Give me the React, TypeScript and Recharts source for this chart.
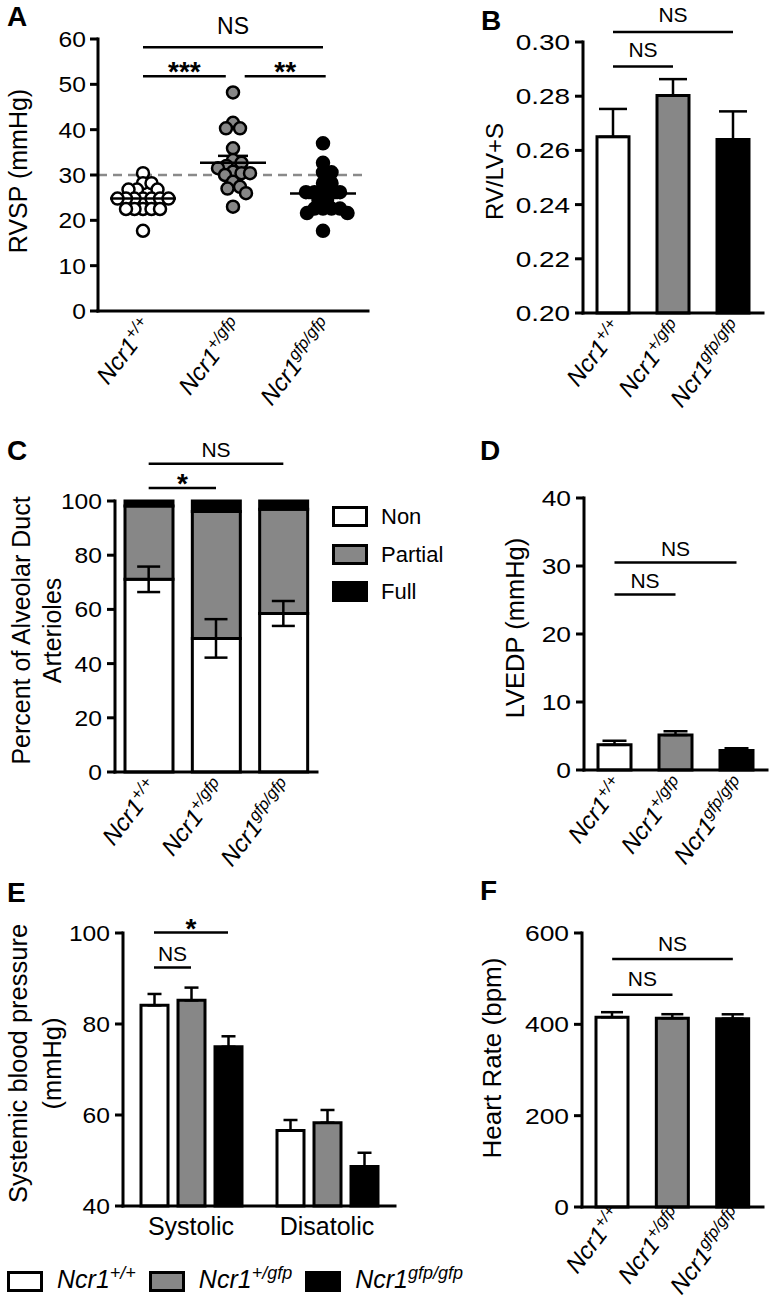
import React from "react";
import {
  ScatterChart,
  Scatter,
  BarChart,
  Bar,
  ComposedChart,
  XAxis,
  YAxis,
  ReferenceLine,
  ErrorBar,
  Cell,
} from "recharts";

const FONT = '"Liberation Sans", Arial, Helvetica, sans-serif';
const GRAY = "#878787";

// ─── Data ─────────────────────────────────────────────────────────────────────

const GENE = "Ncr1";
const GENOTYPES = ["+/+", "+/gfp", "gfp/gfp"];
const GENO_FILLS = ["#ffffff", GRAY, "#000000"];

// A: RVSP per animal (mmHg)
const RVSP_WT = [30.4, 28.2, 28.2, 26.8, 26.8, 26.8, 24.8, 24.8, 24.8, 24.8, 24.8, 24.8, 24.8, 22.5, 22.5, 22.5, 22.5, 22.5, 17.7];
const RVSP_HET = [48.2, 41.5, 40.3, 40.3, 35.9, 33.3, 32.7, 32.0, 31.5, 30.7, 30.4, 30.4, 30.0, 28.5, 27.4, 27.0, 26.0, 23.0];
const RVSP_KO = [37.0, 32.7, 30.6, 30.6, 28.2, 28.2, 26.2, 26.2, 26.2, 26.2, 26.2, 24.5, 24.5, 22.6, 22.6, 22.6, 22.6, 21.6, 21.6, 17.7];
const RVSP_THRESHOLD = 30;
const A_TICKS = [0, 10, 20, 30, 40, 50, 60];

// B: RV/LV+S
const RVLV_MEAN = [0.265, 0.2803, 0.264];
const RVLV_SEM = [0.0103, 0.006, 0.0104];
const B_TICKS = [0.2, 0.22, 0.24, 0.26, 0.28, 0.3];

// C: muscularisation of alveolar duct arterioles (%)
const MUSC_CLASSES = ["Non", "Partial", "Full"];
const MUSC_FILLS = ["#ffffff", GRAY, "#000000"];
const MUSC_NON = [71.1, 49.3, 58.5];
const MUSC_NON_SEM = [4.7, 7.1, 4.6];
const MUSC_PARTIAL = [27.1, 46.8, 38.5];
const MUSC_FULL = [1.8, 3.9, 3.0];
const C_TICKS = [0, 20, 40, 60, 80, 100];

// D: LVEDP (mmHg)
const LVEDP_MEAN = [3.7, 5.15, 2.85];
const LVEDP_SEM = [0.6, 0.55, 0.35];
const D_TICKS = [0, 10, 20, 30, 40];

// E: systemic blood pressure (mmHg)
const BP_PHASES = ["Systolic", "Disatolic"];
const BP_WT = [84.1, 56.6];
const BP_WT_SEM = [2.5, 2.3];
const BP_HET = [85.2, 58.3];
const BP_HET_SEM = [2.8, 2.8];
const BP_KO = [75.0, 48.7];
const BP_KO_SEM = [2.3, 3.0];
const E_TICKS = [40, 60, 80, 100];

// F: heart rate (bpm)
const HR_MEAN = [415.6, 413.4, 412.5];
const HR_SEM = [11, 8.8, 9.5];
const F_TICKS = [0, 200, 400, 600];

// significance brackets
const A_SIG = [
  { x1: 1, x2: 3, y: 58.2, text: "NS" },
  { x1: 1, x2: 1.92, y: 51.8, text: "***" },
  { x1: 2.13, x2: 3.03, y: 51.8, text: "**" },
];
const B_SIG = [
  { x1: GENOTYPES[0], x2: GENOTYPES[2], y: 0.3037, text: "NS" },
  { x1: GENOTYPES[0], x2: GENOTYPES[1], y: 0.291, text: "NS" },
];
const C_SIG = [
  { x1: GENOTYPES[0], x2: GENOTYPES[2], y: 113.7, text: "NS" },
  { x1: GENOTYPES[0], x2: GENOTYPES[1], y: 104.8, text: "*" },
];
const D_SIG = [
  { x1: GENOTYPES[0], x2: GENOTYPES[2], y: 30.5, text: "NS" },
  { x1: GENOTYPES[0], x2: GENOTYPES[1], y: 25.8, text: "NS" },
];
const F_SIG = [
  { x1: GENOTYPES[0], x2: GENOTYPES[2], y: 543, text: "NS" },
  { x1: GENOTYPES[0], x2: GENOTYPES[1], y: 464.6, text: "NS" },
];
// within-group comparisons in E (bar index in the Systolic group)
const E_SIG = [
  { phase: BP_PHASES[0], from: 0, to: 2, y: 100.1, text: "*" },
  { phase: BP_PHASES[0], from: 0, to: 1, y: 92.4, text: "NS" },
];

// ─── Shared bits ──────────────────────────────────────────────────────────────

const axisLine = { stroke: "#000", strokeWidth: 3, strokeLinecap: "square" as const };
const tickLine = { stroke: "#000", strokeWidth: 3 };

const makeYTick = (fmt?: (v: number) => string, sx = 1.12) => (props: any) => (
  <g transform={`translate(${props.x},${props.y}) scale(${sx},1)`}>
    <text x={0} y={0} dy="0.36em" textAnchor="end" fontFamily={FONT} fontSize={22} fill="#000">
      {fmt ? fmt(props.payload.value) : props.payload.value}
    </text>
  </g>
);

const makeGenoTick = (drop = 16) => (props: any) => {
  const { x, y, payload } = props;
  const v = payload.value;
  const sup = typeof v === "number" ? GENOTYPES[v - 1] : v;
  return (
    <g transform={`translate(${x + 11},${y + drop}) rotate(-52)`}>
      <text x={0} y={0} textAnchor="end" fontFamily={FONT} fontStyle="italic" fontSize={24} fill="#000">
        {GENE}
        <tspan fontSize={16.5} dy={-9}>
          {sup}
        </tspan>
      </text>
    </g>
  );
};
const GenoTick = makeGenoTick();

const yTitle = (lines: string[], cx: number, size: number, shift: number, lh = 32) => (props: any) => {
  const vb = props.viewBox;
  const cy = vb.y + vb.height / 2 + shift;
  return (
    <g>
      {lines.map((t, i) => {
        const x = vb.x + cx + i * lh;
        return (
          <text
            key={i}
            x={x}
            y={cy}
            dy="0.36em"
            textAnchor="middle"
            transform={`rotate(-90 ${x} ${cy})`}
            fontFamily={FONT}
            fontSize={size}
            fill="#000"
          >
            {t}
          </text>
        );
      })}
    </g>
  );
};

const sigText = (text: string, x: number, lineY: number, nsSize: number, nsGap: number, starGap: number) => {
  const star = /^\*+$/.test(text);
  return (
    <text
      x={x}
      y={lineY - (star ? starGap : nsGap)}
      textAnchor="middle"
      fontFamily={FONT}
      fontSize={star ? 28 : nsSize}
      fontWeight={star ? 700 : 400}
      fill="#000"
    >
      {text}
    </text>
  );
};

type Sig = { x1: any; x2: any; y: number; text: string };

const brackets = (list: Sig[], nsSize: number, nsGap: number, starGap: number) =>
  list.map((b, i) => (
    <ReferenceLine
      key={`sig-${i}`}
      segment={[
        { x: b.x1, y: b.y },
        { x: b.x2, y: b.y },
      ]}
      stroke="#000"
      strokeWidth={2.5}
      ifOverflow="visible"
      label={(p: any) => sigText(b.text, p.viewBox.x + p.viewBox.width / 2, p.viewBox.y, nsSize, nsGap, starGap)}
    />
  ));

// simple beeswarm: nearest free horizontal slot (in px) for each point
function swarm(values: number[], pxX: number, pxY: number, minDist: number) {
  const placed: [number, number][] = [];
  return values.map((v) => {
    const py = v * pxY;
    let off = 0;
    for (let k = 0; k < 2000; k++) {
      const c = (k % 2 === 1 ? 1 : -1) * Math.ceil(k / 2) * 0.5;
      if (placed.every(([qx, qy]) => Math.hypot(qx - c, qy - py) >= minDist)) {
        off = c;
        break;
      }
    }
    placed.push([off, py]);
    return off / pxX;
  });
}

const mean = (a: number[]) => a.reduce((s, v) => s + v, 0) / a.length;
const sem = (a: number[]) => {
  const m = mean(a);
  const sd = Math.sqrt(a.reduce((s, v) => s + (v - m) ** 2, 0) / (a.length - 1));
  return sd / Math.sqrt(a.length);
};

// ─── Panel A ─────────────────────────────────────────────────────────────────

const A_W = 390;
const A_H = 420;
const A_M = { top: 39, right: 22, bottom: 9, left: 0 };
const A_YW = 98;
const A_XH = 100;
const A_PX_X = (A_W - A_M.left - A_M.right - A_YW) / 3;
const A_PX_Y = (A_H - A_M.top - A_M.bottom - A_XH) / 60;

const RVSP_GROUPS = [RVSP_WT, RVSP_HET, RVSP_KO];
const A_POINTS = RVSP_GROUPS.map((vals, gi) => {
  const offs = swarm(vals, A_PX_X, A_PX_Y, 8.5);
  return vals.map((v, i) => ({ x: gi + 1 + offs[i], y: v }));
});
const A_MEANS = RVSP_GROUPS.map((vals, gi) => ({ x: gi + 1, y: mean(vals), sem: sem(vals) }));

const dot = (fill: string) => (p: any) => (
  <circle cx={p.cx} cy={p.cy} r={6} fill={fill} stroke="#000" strokeWidth={2.5} />
);
const meanShape = (p: any) => (
  <line x1={p.cx - 33} x2={p.cx + 33} y1={p.cy} y2={p.cy} stroke="#000" strokeWidth={2.5} />
);

const PanelA = () => (
  <div style={{ position: "absolute", left: 0, top: 0 }}>
    <ScatterChart width={A_W} height={A_H} margin={A_M}>
      <XAxis
        type="number"
        dataKey="x"
        domain={[0.5, 3.5]}
        ticks={[1, 2, 3]}
        interval={0}
        allowDataOverflow
        axisLine={axisLine}
        tickLine={false}
        tickSize={0}
        tickMargin={0}
        height={A_XH}
        tick={GenoTick}
      />
      <YAxis
        type="number"
        dataKey="y"
        domain={[0, 60]}
        ticks={A_TICKS}
        interval={0}
        width={A_YW}
        axisLine={axisLine}
        tickLine={tickLine}
        tickSize={8}
        tickMargin={4}
        tick={makeYTick()}
        label={yTitle(["RVSP (mmHg)"], 18, 25, -4)}
      />
      <ReferenceLine y={RVSP_THRESHOLD} stroke="#8a8a8a" strokeWidth={2.5} strokeDasharray="9 6" />
      {A_POINTS.map((pts, gi) => (
        <Scatter key={gi} data={pts} fill={GENO_FILLS[gi]} shape={dot(GENO_FILLS[gi])} isAnimationActive={false} />
      ))}
      <Scatter data={A_MEANS} shape={meanShape} isAnimationActive={false}>
        <ErrorBar dataKey="sem" direction="y" width={15} stroke="#000" strokeWidth={2.5} />
      </Scatter>
      {brackets(A_SIG, 23, 13, -5)}
    </ScatterChart>
  </div>
);

// ─── Simple genotype bar panels (B, D, F) ───────────────────────────────────

type SimpleProps = {
  left: number;
  top: number;
  width: number;
  height: number;
  margin: { top: number; right: number; bottom: number; left: number };
  yWidth: number;
  xHeight: number;
  means: number[];
  sems: number[];
  domain: [number, number];
  ticks: number[];
  fmt?: (v: number) => string;
  tickScale: number;
  labelDrop?: number;
  title: (props: any) => React.ReactNode;
  barSize: number;
  capHalf: number;
  sig: Sig[];
  nsGap: number;
};

const SimpleBars = (p: SimpleProps) => {
  const data = GENOTYPES.map((g, i) => ({ g, v: p.means[i], err: [0, p.sems[i]] }));
  return (
    <div style={{ position: "absolute", left: p.left, top: p.top }}>
      <BarChart width={p.width} height={p.height} margin={p.margin} data={data}>
        <XAxis
          dataKey="g"
          interval={0}
          axisLine={axisLine}
          tickLine={false}
          tickSize={0}
          tickMargin={0}
          height={p.xHeight}
          tick={makeGenoTick(p.labelDrop)}
        />
        <YAxis
          type="number"
          domain={p.domain}
          ticks={p.ticks}
          interval={0}
          width={p.yWidth}
          axisLine={axisLine}
          tickLine={tickLine}
          tickSize={8}
          tickMargin={5}
          tick={makeYTick(p.fmt, p.tickScale)}
          label={p.title}
        />
        <Bar dataKey="v" barSize={p.barSize} stroke="#000" strokeWidth={3} isAnimationActive={false}>
          {data.map((d, i) => (
            <Cell key={d.g} fill={GENO_FILLS[i]} />
          ))}
          <ErrorBar dataKey="err" direction="y" width={p.capHalf} stroke="#000" strokeWidth={2.5} />
        </Bar>
        {brackets(p.sig, 21, p.nsGap, -5)}
      </BarChart>
    </div>
  );
};

// ─── Panel C ─────────────────────────────────────────────────────────────────

const C_DATA = GENOTYPES.map((g, i) => ({
  g,
  non: MUSC_NON[i],
  nonErr: MUSC_NON_SEM[i],
  partial: MUSC_PARTIAL[i],
  full: MUSC_FULL[i],
}));
const C_KEYS = ["non", "partial", "full"];

const PanelC = () => (
  <div style={{ position: "absolute", left: 0, top: 420 }}>
    <ComposedChart width={460} height={450} margin={{ top: 81, right: 143, bottom: 28, left: 0 }} data={C_DATA}>
      <XAxis
        dataKey="g"
        interval={0}
        allowDuplicatedCategory={false}
        axisLine={axisLine}
        tickLine={false}
        tickSize={0}
        tickMargin={0}
        height={70}
        tick={GenoTick}
      />
      <YAxis
        type="number"
        domain={[0, 100]}
        ticks={C_TICKS}
        interval={0}
        width={115}
        axisLine={axisLine}
        tickLine={tickLine}
        tickSize={8}
        tickMargin={5}
        tick={makeYTick()}
        label={yTitle(["Percent of Alveolar Duct", "Arterioles"], 21, 25, -6, 31)}
      />
      {C_KEYS.map((k, i) => (
        <Bar
          key={k}
          dataKey={k}
          stackId="m"
          barSize={48}
          fill={MUSC_FILLS[i]}
          stroke="#000"
          strokeWidth={3}
          isAnimationActive={false}
        />
      ))}
      <Scatter dataKey="non" shape={() => <g />} isAnimationActive={false}>
        <ErrorBar dataKey="nonErr" direction="y" width={11.5} stroke="#000" strokeWidth={2.5} />
      </Scatter>
      {brackets(C_SIG, 21, 6.5, -5)}
    </ComposedChart>
  </div>
);

const LegendC = () => (
  <div style={{ position: "absolute", left: 332, top: 506, fontFamily: FONT }}>
    {MUSC_CLASSES.map((name, i) => (
      <div key={name} style={{ display: "flex", alignItems: "center", height: 21, marginBottom: 16.5 }}>
        <div
          style={{
            width: 36,
            height: 21,
            boxSizing: "border-box",
            border: "3px solid #000",
            background: MUSC_FILLS[i],
          }}
        />
        <span style={{ marginLeft: 13, fontSize: 22, lineHeight: "21px", color: "#000" }}>{name}</span>
      </div>
    ))}
  </div>
);

// ─── Panel E ─────────────────────────────────────────────────────────────────

const E_BAR = 27;
const E_GAP = 10;
const E_STEP = E_BAR + E_GAP; // px between bar centres in a group

const E_DATA = BP_PHASES.map((phase, i) => ({
  phase,
  wt: BP_WT[i],
  wtErr: [0, BP_WT_SEM[i]],
  het: BP_HET[i],
  hetErr: [0, BP_HET_SEM[i]],
  ko: BP_KO[i],
  koErr: [0, BP_KO_SEM[i]],
}));
const E_SERIES = [
  { key: "wt", err: "wtErr" },
  { key: "het", err: "hetErr" },
  { key: "ko", err: "koErr" },
];
const E_MID = (E_SERIES.length - 1) / 2;

const PanelE = () => (
  <div style={{ position: "absolute", left: 0, top: 850 }}>
    <BarChart width={460} height={454} margin={{ top: 83, right: 65, bottom: 48, left: 0 }} data={E_DATA} barGap={E_GAP}>
      <XAxis
        dataKey="phase"
        interval={0}
        axisLine={axisLine}
        tickLine={false}
        tickSize={0}
        tickMargin={11}
        height={50}
        tick={{ fill: "#000", fontSize: 25, fontFamily: FONT }}
      />
      <YAxis
        type="number"
        domain={[40, 100]}
        ticks={E_TICKS}
        interval={0}
        width={123}
        axisLine={axisLine}
        tickLine={tickLine}
        tickSize={8}
        tickMargin={5}
        tick={makeYTick()}
        label={yTitle(["Systemic blood pressure", "(mmHg)"], 18, 25.5, -6, 34)}
      />
      {E_SERIES.map((s, i) => (
        <Bar
          key={s.key}
          dataKey={s.key}
          barSize={E_BAR}
          fill={GENO_FILLS[i]}
          stroke="#000"
          strokeWidth={3}
          isAnimationActive={false}
        >
          <ErrorBar dataKey={s.err} direction="y" width={7} stroke="#000" strokeWidth={2.5} />
        </Bar>
      ))}
      {E_SIG.map((b, i) => (
        <ReferenceLine
          key={`esig-${i}`}
          segment={[
            { x: b.phase, y: b.y },
            { x: b.phase, y: b.y },
          ]}
          ifOverflow="visible"
          shape={(p: any) => {
            const xa = p.x1 + (b.from - E_MID) * E_STEP;
            const xb = p.x1 + (b.to - E_MID) * E_STEP;
            return (
              <g>
                <line x1={xa} x2={xb} y1={p.y1} y2={p.y1} stroke="#000" strokeWidth={2.5} />
                {sigText(b.text, (xa + xb) / 2, p.y1, 21, 7, -5)}
              </g>
            );
          }}
        />
      ))}
    </BarChart>
  </div>
);

const LegendE = () => (
  <div
    style={{
      position: "absolute",
      left: 7,
      top: 1269,
      display: "flex",
      alignItems: "center",
      fontFamily: FONT,
      whiteSpace: "nowrap",
    }}
  >
    {GENOTYPES.map((g, i) => (
      <div key={g} style={{ display: "flex", alignItems: "center", marginRight: 13 }}>
        <div
          style={{
            width: 36,
            height: 21,
            boxSizing: "border-box",
            border: "3px solid #000",
            background: GENO_FILLS[i],
          }}
        />
        <span style={{ marginLeft: 14, fontSize: 25, fontStyle: "italic", lineHeight: "21px", color: "#000" }}>
          {GENE}
          <span style={{ fontSize: 18, position: "relative", top: -9 }}>{g}</span>
        </span>
      </div>
    ))}
  </div>
);

// ─── Panel letters ───────────────────────────────────────────────────────────

const PANEL_LETTERS = ["A", "B", "C", "D", "E", "F"];
const LETTER_POS = [
  [7, 26],
  [481, 30],
  [7, 460],
  [480, 460],
  [7, 902],
  [480, 900],
];

const Letters = () => (
  <svg width={771} height={1304} style={{ position: "absolute", left: 0, top: 0, pointerEvents: "none" }}>
    {PANEL_LETTERS.map((l, i) => (
      <text key={l} x={LETTER_POS[i][0]} y={LETTER_POS[i][1]} fontFamily={FONT} fontWeight={700} fontSize={28} fill="#000">
        {l}
      </text>
    ))}
  </svg>
);

// ─── App ─────────────────────────────────────────────────────────────────────

export default function App() {
  return (
    <div
      style={{
        position: "absolute",
        left: 0,
        top: 0,
        width: 771,
        height: 1304,
        background: "#fff",
        overflow: "hidden",
        fontFamily: FONT,
      }}
    >
      <PanelA />
      <SimpleBars
        left={400}
        top={0}
        width={371}
        height={420}
        margin={{ top: 42, right: 8, bottom: 12, left: 0 }}
        yWidth={183}
        xHeight={95}
        means={RVLV_MEAN}
        sems={RVLV_SEM}
        domain={[0.2, 0.3]}
        ticks={B_TICKS}
        fmt={(v) => v.toFixed(2)}
        tickScale={1.27}
        title={yTitle(["RV/LV+S"], 94, 24, -6)}
        barSize={32}
        capHalf={14}
        sig={B_SIG}
        nsGap={9.5}
      />
      <PanelC />
      <LegendC />
      <SimpleBars
        left={460}
        top={420}
        width={311}
        height={450}
        margin={{ top: 78, right: 4, bottom: 30, left: 0 }}
        yWidth={124}
        xHeight={70}
        means={LVEDP_MEAN}
        sems={LVEDP_SEM}
        domain={[0, 40]}
        ticks={D_TICKS}
        tickScale={1.2}
        title={yTitle(["LVEDP (mmHg)"], 55, 25.5, -6)}
        barSize={33}
        capHalf={12}
        sig={D_SIG}
        nsGap={7}
      />
      <PanelE />
      <LegendE />
      <SimpleBars
        left={460}
        top={850}
        width={311}
        height={454}
        margin={{ top: 83, right: 8, bottom: 7, left: 0 }}
        yWidth={122}
        xHeight={90}
        means={HR_MEAN}
        sems={HR_SEM}
        domain={[0, 600]}
        ticks={F_TICKS}
        tickScale={1.2}
        labelDrop={9}
        title={yTitle(["Heart Rate (bpm)"], 32, 26, -12)}
        barSize={32}
        capHalf={11}
        sig={F_SIG}
        nsGap={8.5}
      />
      <Letters />
    </div>
  );
}
